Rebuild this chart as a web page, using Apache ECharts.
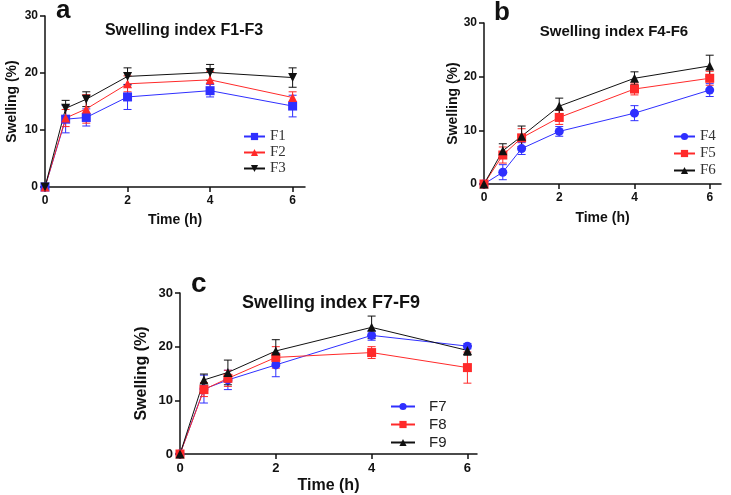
<!DOCTYPE html>
<html>
<head>
<meta charset="utf-8">
<script src="https://cdn.jsdelivr.net/npm/echarts@6/dist/echarts.min.js"></script>
<style>
  html, body { margin: 0; padding: 0; background: #fff; }
  #chart { width: 731px; height: 495px; }
</style>
</head>
<body>
<div id="chart"></div>
<script>
// time points (h)
const times = [0, 0.5, 1, 2, 4, 6];
const xTicks = [0, 2, 4, 6];

// panel a
const f1 = [0, 11.9, 12.2, 15.8, 16.9, 14.2];
const f1Err = [0, 2.4, 1.5, 2.2, 1.1, 1.9];
const f2 = [0, 12.1, 13.7, 18.1, 18.8, 15.7];
const f2Err = [0, 1.5, 2.5, 1.4, 1.5, 1.0];
const f3 = [0, 13.8, 15.4, 19.4, 20.1, 19.2];
const f3Err = [0, 1.4, 1.3, 1.5, 1.4, 1.7];
// panel b
const f4 = [0, 2.2, 6.6, 9.8, 13.2, 17.5];
const f4Err = [0, 1.4, 1.1, 0.9, 1.4, 1.2];
const f5 = [0, 5.4, 8.6, 12.4, 17.7, 19.7];
const f5Err = [0, 1.5, 1.7, 1.3, 1.1, 1.3];
const f6 = [0, 6.2, 8.9, 14.5, 19.7, 22.0];
const f6Err = [0, 1.3, 1.9, 1.5, 1.2, 2.0];
// panel c
const f7 = [0, 12.1, 13.8, 16.6, 22.1, 20.1];
const f7Err = [0, 2.6, 1.8, 2.2, 0.9, 0.5];
const f8 = [0, 12.0, 14.1, 18.0, 18.9, 16.1];
const f8Err = [0, 1.3, 1.5, 2.0, 1.1, 2.9];
const f9 = [0, 13.8, 15.2, 19.2, 23.6, 19.3];
const f9Err = [0, 1.1, 2.3, 2.1, 2.1, 0.9];

const BLUE = '#2f2fff';
const RED = '#ff2a2a';
const BLACK = '#111111';
const SANS = 'Liberation Sans, Arial';

const panels = [
  { grid: { left: 45, top: 16, width: 260, height: 171 }, xMax: 6.3,
    tickSize: 12, nameSize: 14, xGap: 26, yGap: 26,
    series: [
      { name: 'F1', y: f1, err: f1Err, color: BLUE, symbol: 'rect', rot: 0 },
      { name: 'F2', y: f2, err: f2Err, color: RED, symbol: 'triangle', rot: 0 },
      { name: 'F3', y: f3, err: f3Err, color: BLACK, symbol: 'triangle', rot: 180 }
    ] },
  { grid: { left: 484, top: 23, width: 237, height: 161 }, xMax: 6.3,
    tickSize: 12, nameSize: 14, xGap: 27, yGap: 19,
    series: [
      { name: 'F4', y: f4, err: f4Err, color: BLUE, symbol: 'circle', rot: 0 },
      { name: 'F5', y: f5, err: f5Err, color: RED, symbol: 'rect', rot: 0 },
      { name: 'F6', y: f6, err: f6Err, color: BLACK, symbol: 'triangle', rot: 0 }
    ] },
  { grid: { left: 180, top: 293, width: 297, height: 161 }, xMax: 6.2,
    tickSize: 13, nameSize: 16, xGap: 24, yGap: 30,
    series: [
      { name: 'F7', y: f7, err: f7Err, color: BLUE, symbol: 'circle', rot: 0 },
      { name: 'F8', y: f8, err: f8Err, color: RED, symbol: 'rect', rot: 0 },
      { name: 'F9', y: f9, err: f9Err, color: BLACK, symbol: 'triangle', rot: 0 }
    ] }
];

const grids = [], xAxes = [], yAxes = [], series = [];
panels.forEach((p, i) => {
  const tickFont = { fontFamily: SANS, fontWeight: 'bold', fontSize: p.tickSize, color: '#111' };
  const nameFont = { fontFamily: SANS, fontWeight: 'bold', fontSize: p.nameSize, color: '#111' };
  grids.push(p.grid);
  xAxes.push({
    gridIndex: i, type: 'value', min: 0, max: p.xMax,
    name: 'Time (h)', nameLocation: 'middle', nameGap: p.xGap, nameTextStyle: nameFont,
    axisLine: { lineStyle: { color: '#111', width: 1.5 } },
    axisTick: { length: 5, customValues: xTicks, lineStyle: { color: '#111', width: 1.5 } },
    axisLabel: Object.assign({ customValues: xTicks, margin: 8 }, tickFont),
    splitLine: { show: false }
  });
  yAxes.push({
    gridIndex: i, type: 'value', min: 0, max: 30, interval: 10,
    name: 'Swelling (%)', nameLocation: 'middle', nameGap: p.yGap, nameTextStyle: nameFont,
    axisLine: { show: true, lineStyle: { color: '#111', width: 1.5 } },
    axisTick: { show: true, length: 5, lineStyle: { color: '#111', width: 1.5 } },
    axisLabel: Object.assign({ margin: 7 }, tickFont),
    splitLine: { show: false }
  });
  p.series.forEach(s => {
    series.push({
      name: s.name, type: 'line', xAxisIndex: i, yAxisIndex: i,
      data: times.map((t, k) => [t, s.y[k]]),
      symbol: s.symbol, symbolSize: 9, symbolRotate: s.rot,
      itemStyle: { color: s.color },
      lineStyle: { color: s.color, width: 1 },
      z: 3
    });
    // error bars
    series.push({
      type: 'custom', xAxisIndex: i, yAxisIndex: i, silent: true,
      data: times.map((t, k) => [t, s.y[k], s.err[k]]),
      renderItem: (params, api) => {
        const x = api.value(0), y = api.value(1), e = api.value(2);
        if (!e) return null;
        const hi = api.coord([x, y + e]);
        const lo = api.coord([x, y - e]);
        const w = 4;
        const st = { stroke: s.color, lineWidth: 1 };
        return { type: 'group', children: [
          { type: 'line', shape: { x1: hi[0], y1: hi[1], x2: lo[0], y2: lo[1] }, style: st },
          { type: 'line', shape: { x1: hi[0] - w, y1: hi[1], x2: hi[0] + w, y2: hi[1] }, style: st },
          { type: 'line', shape: { x1: lo[0] - w, y1: lo[1], x2: lo[0] + w, y2: lo[1] }, style: st }
        ] };
      },
      z: 2
    });
  });
});

const title = (size) => ({ fontFamily: SANS, fontWeight: 'bold', fontSize: size, color: '#111' });

const option = {
  animation: false,
  backgroundColor: '#fff',
  title: [
    { text: 'a', left: 56, top: -2, padding: 0, textStyle: title(26) },
    { text: 'Swelling index F1-F3', left: 184, top: 23, padding: 0, textAlign: 'center', textStyle: title(16) },
    { text: 'b', left: 494, top: 0, padding: 0, textStyle: title(26) },
    { text: 'Swelling index F4-F6', left: 614, top: 24, padding: 0, textAlign: 'center', textStyle: title(15) },
    { text: 'c', left: 191, top: 270, padding: 0, textStyle: title(28) },
    { text: 'Swelling index F7-F9', left: 331, top: 294, padding: 0, textAlign: 'center', textStyle: title(18) }
  ],
  legend: [
    { data: ['F1', 'F2', 'F3'], orient: 'vertical', left: 243, top: 129, padding: 0,
      itemWidth: 21, itemHeight: 9, itemGap: 1,
      textStyle: { fontFamily: 'Liberation Serif, Times New Roman', fontSize: 15, lineHeight: 14, color: '#333' } },
    { data: ['F4', 'F5', 'F6'], orient: 'vertical', left: 673, top: 129, padding: 0,
      itemWidth: 21, itemHeight: 9, itemGap: 2,
      textStyle: { fontFamily: 'Liberation Serif, Times New Roman', fontSize: 15, lineHeight: 14, color: '#333' } },
    { data: ['F7', 'F8', 'F9'], orient: 'vertical', left: 390, top: 399, padding: 0,
      itemWidth: 24, itemHeight: 9, itemGap: 3,
      textStyle: { fontFamily: SANS, fontSize: 15, lineHeight: 14, color: '#222', padding: [0, 0, 0, 9] } }
  ],
  grid: grids,
  xAxis: xAxes,
  yAxis: yAxes,
  series: series
};

const chart = echarts.init(document.getElementById('chart'), null, { renderer: 'canvas' });
chart.setOption(option);
</script>
</body>
</html>
